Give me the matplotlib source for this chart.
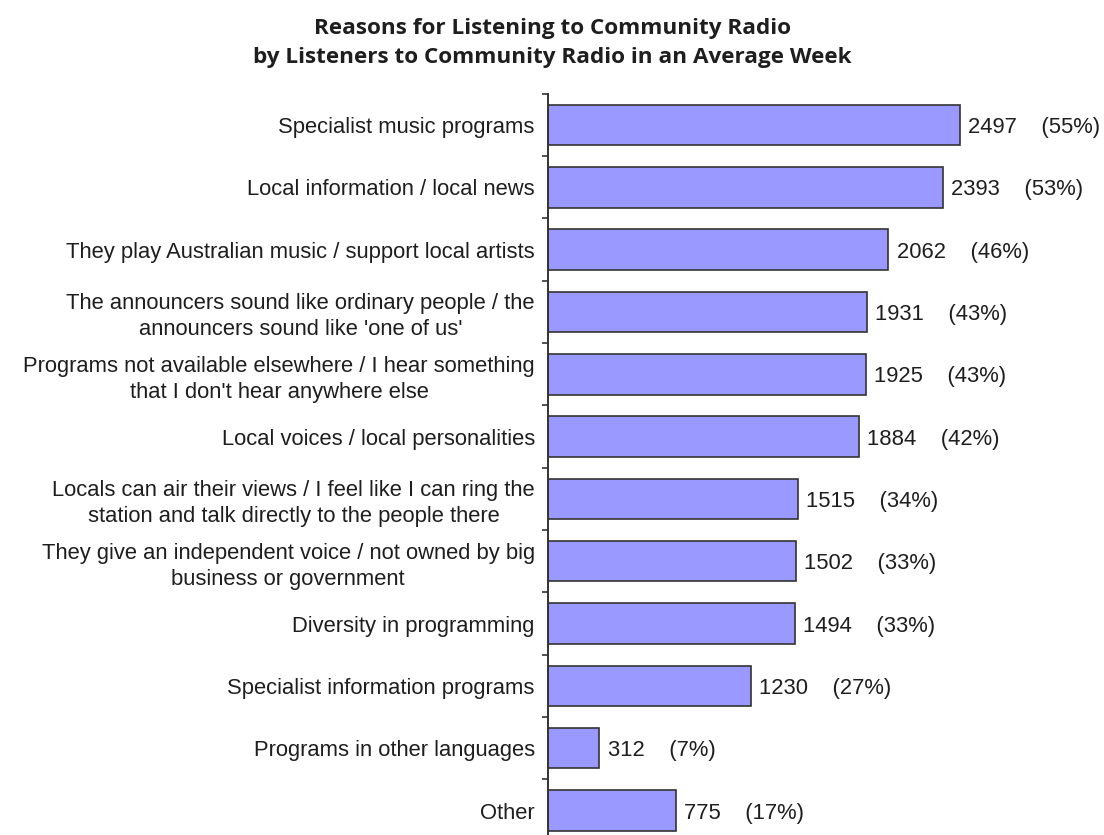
import matplotlib
matplotlib.use("Agg")
import matplotlib.pyplot as plt
import numpy as np

categories = [
    "Specialist music programs",
    "Local information / local news",
    "They play Australian music / support local artists",
    "The announcers sound like ordinary people / the\nannouncers sound like 'one of us'",
    "Programs not available elsewhere / I hear something\nthat I don't hear anywhere else",
    "Local voices / local personalities",
    "Locals can air their views / I feel like I can ring the\nstation and talk directly to the people there",
    "They give an independent voice / not owned by big\nbusiness or government",
    "Diversity in programming",
    "Specialist information programs",
    "Programs in other languages",
    "Other",
]
counts = [2497, 2393, 2062, 1931, 1925, 1884, 1515, 1502, 1494, 1230, 312, 775]
percents = [55, 53, 46, 43, 43, 42, 34, 33, 33, 27, 7, 17]
title_lines = ["Reasons for Listening to Community Radio",
               "by Listeners to Community Radio in an Average Week"]

plt.rcParams['font.family'] = ['Liberation Sans', 'DejaVu Sans']

W, H = 1104, 835
fig = plt.figure(figsize=(W / 100, H / 100), dpi=100)
ax_left = 548 / W
ax_top = 1 - 93.8 / H
ax_bottom = (H - 841.7) / H
ax = fig.add_axes([ax_left, ax_bottom, 1 - ax_left, ax_top - ax_bottom])

y = np.arange(len(categories))
ax.barh(y, counts, height=0.65, color='#9999FF', edgecolor='#333333', linewidth=1.2)
ax.set_ylim(len(categories) - 0.5, -0.5)
ax.set_xlim(0, 556 / 0.165)

fs = 15.8
txt_color = '#1e1e1e'
for yi, c, p in zip(y, counts, percents):
    ax.annotate(f"{c}    ({p}%)", (c, yi), xytext=(6, 0), textcoords='offset points',
                va='center_baseline', ha='left', fontsize=fs, color=txt_color)

ax.set_yticks(y)
ax.set_yticklabels(categories, fontsize=fs, color=txt_color, multialignment='center',
                   linespacing=1.3)
ax.tick_params(axis='y', which='major', length=0, pad=9.5)
ax.set_yticks(np.arange(-0.5, len(categories), 1), minor=True)
ax.tick_params(axis='y', which='minor', length=4.5, width=1.2, color='#333333', direction='out')
ax.set_xticks([])

for s in ['top', 'right', 'bottom']:
    ax.spines[s].set_visible(False)
ax.spines['left'].set_color('#333333')
ax.spines['left'].set_linewidth(1.4)

for line, yb in zip(title_lines, [34, 63]):
    fig.text(552 / W, 1 - yb / H, line, ha='center', va='baseline', fontsize=16.2,
             fontweight='bold', family=['Open Sans', 'DejaVu Sans'], color=txt_color)

fig.savefig("out.png", dpi=100)
